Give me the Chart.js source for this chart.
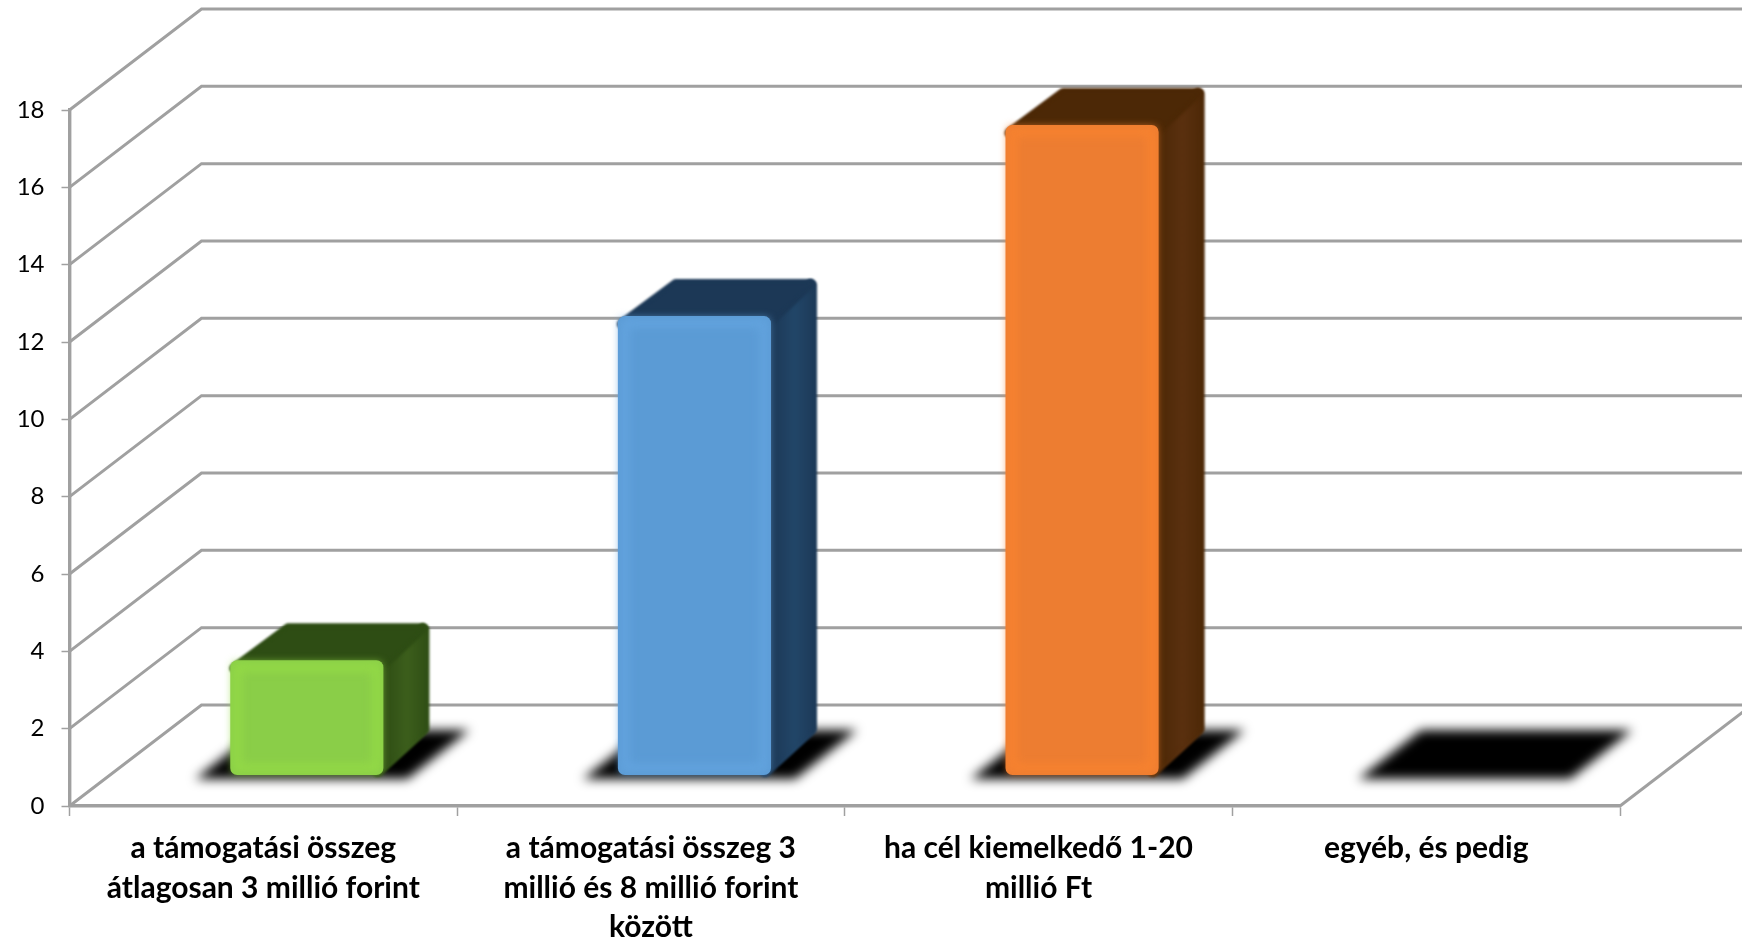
<!DOCTYPE html>
<html>
<head>
<meta charset="utf-8">
<script src="https://cdn.jsdelivr.net/npm/chart.js@4"></script>
<style>
  html, body { margin: 0; background: #fff; }
  #wrap { width: 1742px; height: 940px; }
</style>
</head>
<body>
<div id="wrap"><canvas id="chart"></canvas></div>
<script>
const categories = [
  ['a támogatási összeg', 'átlagosan 3 millió forint'],
  ['a támogatási összeg 3', 'millió és 8 millió forint', 'között'],
  ['ha cél kiemelkedő 1-20', 'millió Ft'],
  ['egyéb, és pedig']
];
const values = [3, 12, 17, 0];
const yMax = 18;
const yStep = 2;

const faceColors = ['#8ace48', '#5b9bd5', '#ed7d31', '#000000'];
const edgeColors = ['#93d946', '#62a3de', '#f7822f', '#000000'];
const topColors = ['#2e4d14', '#1c3856', '#4c2806', '#000000'];
const sideColors = ['#3c5e1c', '#224668', '#5a300f', '#000000'];

const gridColor = '#a0a0a0';
// depth of the floor and of the bars, in pixels
const wallDx = 132, wallDy = -101;
const barDx = 43.5, barDy = -31;
const depthDx = 47, depthDy = -38;

function poly(ctx, pts, fill, round) {
  ctx.beginPath();
  pts.forEach((p, i) => i ? ctx.lineTo(p[0], p[1]) : ctx.moveTo(p[0], p[1]));
  ctx.closePath();
  ctx.fillStyle = fill;
  ctx.strokeStyle = fill;
  ctx.lineWidth = round;
  ctx.lineJoin = 'round';
  ctx.stroke();
  ctx.fill();
}

const walls3d = {
  id: 'walls3d',
  beforeDatasetsDraw(chart) {
    const ctx = chart.ctx, area = chart.chartArea, y = chart.scales.y, x = chart.scales.x;
    ctx.save();
    ctx.filter = 'blur(0.5px)';
    ctx.strokeStyle = gridColor;
    ctx.lineWidth = 3;
    ctx.lineJoin = 'miter';
    for (let v = 0; v <= yMax; v += yStep) {
      const py = y.getPixelForValue(v);
      ctx.beginPath();
      ctx.moveTo(area.left, py);
      ctx.lineTo(area.left + wallDx, py + wallDy);
      ctx.lineTo(chart.width, py + wallDy);
      ctx.stroke();
    }
    // right edge of the floor
    ctx.beginPath();
    ctx.moveTo(area.right, area.bottom);
    ctx.lineTo(area.right + wallDx, area.bottom + wallDy);
    ctx.stroke();

    // floor shadows, one per category
    ctx.filter = 'blur(5.5px)';
    ctx.fillStyle = '#000';
    categories.forEach((c, i) => {
      const cx = x.getPixelForValue(i);
      ctx.beginPath();
      ctx.moveTo(cx - 68, 779);
      ctx.lineTo(cx + 144, 779);
      ctx.lineTo(cx + 206, 730);
      ctx.lineTo(cx - 5, 730);
      ctx.closePath();
      ctx.fill();
    });

    // top and side faces of the bars
    ctx.filter = 'blur(1.2px)';
    const bars = chart.getDatasetMeta(0).data;
    bars.forEach((b, i) => {
      if (!values[i]) return;
      const L = b.x - b.width / 2 + barDx, R = b.x + b.width / 2 + barDx;
      const T = b.y + barDy, B = b.base + barDy;
      const side = ctx.createLinearGradient(R, 0, R + depthDx, 0);
      side.addColorStop(0, topColors[i]);
      side.addColorStop(0.5, sideColors[i]);
      side.addColorStop(1, topColors[i]);
      poly(ctx, [[R - 6, T + 8], [R + depthDx - 7, T + depthDy + 7], [R + depthDx - 7, B + depthDy - 8], [R - 6, B - 4]], side, 12);
      poly(ctx, [[L + 4, T + 8], [L + depthDx + 11, T + depthDy + 6], [R + depthDx - 8, T + depthDy + 6], [R - 4, T + 8]], topColors[i], 10);
    });
    ctx.restore();
  },
  beforeDatasetDraw(chart) {
    chart.ctx.save();
    chart.ctx.translate(barDx, barDy);
  },
  afterDatasetDraw(chart) {
    const ctx = chart.ctx;
    // soft lighter rim on the front faces
    chart.getDatasetMeta(0).data.forEach((b, i) => {
      if (!values[i]) return;
      const w = b.width;
      ctx.strokeStyle = edgeColors[i];
      ctx.lineWidth = 9;
      ctx.filter = 'blur(4px)';
      ctx.strokeRect(b.x - w / 2 + 7, b.y + 7, w - 14, b.base - b.y - 14);
      ctx.filter = 'none';
    });
    ctx.restore();
  }
};

new Chart(document.getElementById('chart'), {
  type: 'bar',
  data: {
    labels: categories,
    datasets: [{
      data: values,
      yAxisID: 'yBars',
      backgroundColor: faceColors,
      borderRadius: 7,
      borderSkipped: false,
      categoryPercentage: 1,
      barPercentage: 0.395,
      clip: false
    }]
  },
  options: {
    responsive: true,
    maintainAspectRatio: false,
    animation: false,
    layout: { padding: { top: 110, right: 122, left: 0, bottom: 0 } },
    plugins: { legend: { display: false }, tooltip: { enabled: false } },
    scales: {
      x: {
        grid: { drawOnChartArea: false, color: gridColor, tickLength: 10, tickWidth: 1.5, offset: true },
        border: { color: gridColor, width: 3.4 },
        afterFit(s) { s.height = 134; },
        ticks: {
          color: '#000',
          maxRotation: 0,
          autoSkip: false,
          padding: 13,
          font: { family: 'Lato', size: 30, weight: 'bold', lineHeight: 1.31 }
        }
      },
      y: {
        min: 0,
        max: yMax,
        grid: { drawOnChartArea: false, color: gridColor, tickLength: 8, tickWidth: 1.5 },
        border: { color: gridColor, width: 3.4 },
        afterFit(s) { s.width = 69.5; },
        ticks: {
          stepSize: yStep,
          color: '#000',
          padding: 17,
          font: { family: 'Lato', size: 24 }
        }
      },
      // the bars stand further back than the axis, so they read a bit smaller
      yBars: { display: false, min: 0, max: 18.2 }
    }
  },
  plugins: [walls3d]
});
</script>
</body>
</html>
